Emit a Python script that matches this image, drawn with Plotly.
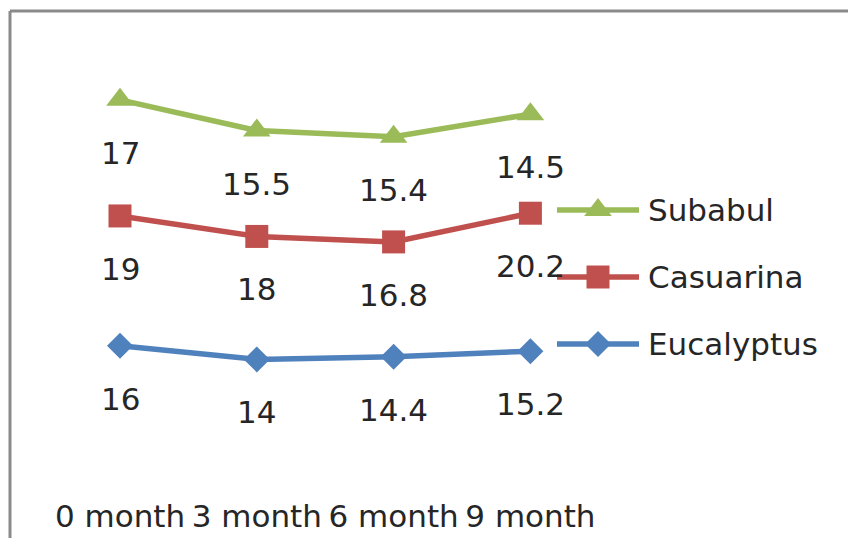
import numpy as np
import plotly.graph_objects as go

# Months on the category axis
months = ["0 month", "3 month", "6 month", "9 month"]

# Series values (stacked line chart)
eucalyptus = [16, 14, 14.4, 15.2]
casuarina = [19, 18, 16.8, 20.2]
subabul = [17, 15.5, 15.4, 14.5]

series = [
    ("Eucalyptus", eucalyptus, "#4F81BD", "diamond", 20),
    ("Casuarina", casuarina, "#C0504D", "square", 23),
    ("Subabul", subabul, "#9BBB59", "triangle-up", 24),
]

FONT = "DejaVu Sans"
FS = 31
TXT = "#262626"
W, H = 848, 538
BOTTOM = 83                  # space under the plot for the category labels
PLOT_H = H - BOTTOM
X0, DX = 120, 136.8          # pixel position of first category and spacing
UNIT = 6.83                  # pixels per value unit
LW = 5.5

xcat = list(range(len(months)))
fig = go.Figure()

cum = np.zeros(len(months))
for name, vals, color, sym, msize in series:
    cum = cum + np.array(vals)
    fig.add_trace(go.Scatter(
        x=xcat, y=vals, name=name, stackgroup="s", fill="none",
        mode="lines+markers",
        line=dict(color=color, width=LW),
        marker=dict(symbol=sym, size=msize, color=color, opacity=1),
        showlegend=False, hoverinfo="skip",
    ))
    for xi, yi, v in zip(xcat, cum, vals):
        fig.add_annotation(
            x=xi, y=yi, text=f"{v:g}", showarrow=False, yshift=-53,
            xanchor="center", yanchor="middle",
            font=dict(family=FONT, size=FS, color=TXT),
        )

# Legend drawn on a pixel-coordinate overlay
legend_rows = [("Subabul", 210), ("Casuarina", 277), ("Eucalyptus", 344)]
lookup = {s[0]: s for s in series}
for name, py in legend_rows:
    _, _, color, sym, msize = lookup[name]
    fig.add_trace(go.Scatter(
        x=[557, 639], y=[py, py], xaxis="x2", yaxis="y2",
        mode="lines", line=dict(color=color, width=LW),
        showlegend=False, hoverinfo="skip",
    ))
    fig.add_trace(go.Scatter(
        x=[598], y=[py], xaxis="x2", yaxis="y2",
        mode="markers",
        marker=dict(symbol=sym, size=msize, color=color, opacity=1),
        showlegend=False, hoverinfo="skip",
    ))
    fig.add_annotation(
        x=646, y=py, xref="x2", yref="y2", text=name, showarrow=False,
        xanchor="left", yanchor="middle",
        font=dict(family=FONT, size=FS, color=TXT),
    )

# Chart frame (left and top edges), in paper units so it is not clipped
def px(xp):
    return xp / W


def py_(yp):
    return (PLOT_H - yp) / PLOT_H


fig.add_shape(type="line", xref="paper", yref="paper",
              x0=px(10), x1=px(10), y0=py_(11), y1=py_(H + 20),
              line=dict(color="#8a8a8a", width=3))
fig.add_shape(type="line", xref="paper", yref="paper",
              x0=px(10), x1=px(W + 20), y0=py_(11), y1=py_(11),
              line=dict(color="#8a8a8a", width=3))

fig.update_layout(
    width=W, height=H,
    margin=dict(l=0, r=0, t=0, b=BOTTOM),
    paper_bgcolor="white", plot_bgcolor="white",
    xaxis=dict(
        range=[-X0 / DX, (W - X0) / DX],
        tickvals=xcat, ticktext=months,
        showgrid=False, zeroline=False, showline=False, ticks="",
        tickfont=dict(family=FONT, size=FS, color=TXT),
        ticklabelstandoff=40,
    ),
    yaxis=dict(range=[0, PLOT_H / UNIT], visible=False, showgrid=False),
    xaxis2=dict(range=[0, W], overlaying="x", visible=False),
    yaxis2=dict(range=[PLOT_H, 0], overlaying="y", visible=False),
)

fig.write_html("out.html")
